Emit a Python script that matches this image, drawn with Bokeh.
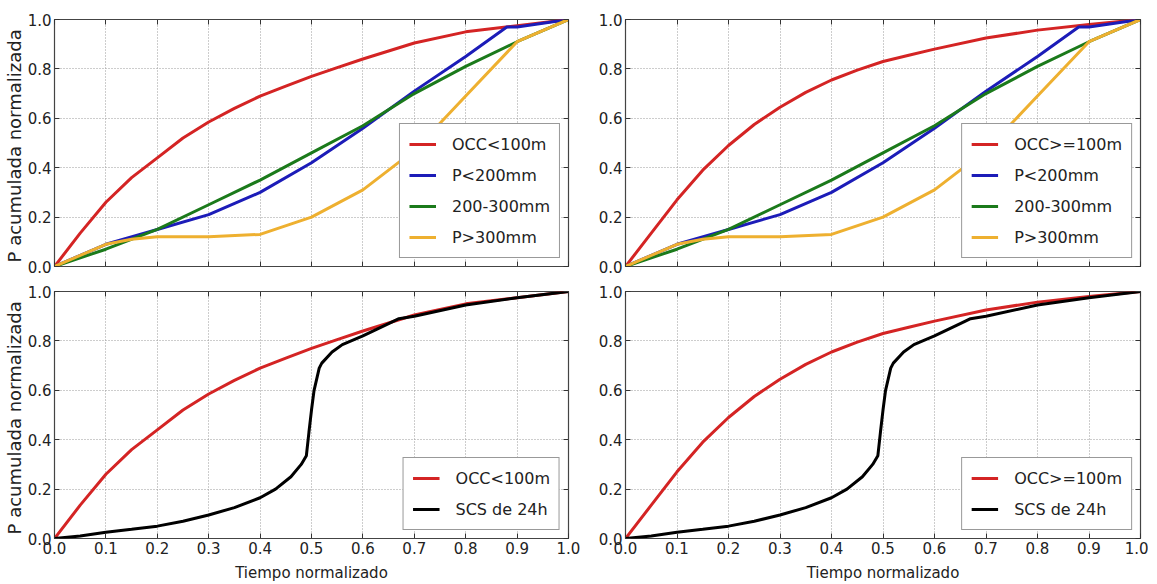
from bokeh.plotting import figure
from bokeh.layouts import column, row
from bokeh.models import Legend, LegendItem, FixedTicker, NumeralTickFormatter, LinearAxis
from bokeh.embed import file_html
from bokeh.resources import INLINE

FONT = "DejaVu Sans"

# ---------- data ----------
t_occ = [0.0, 0.05, 0.1, 0.15, 0.2, 0.25, 0.3, 0.35, 0.4, 0.45, 0.5, 0.55, 0.6, 0.7, 0.8, 0.9, 1.0]
occ_lt100 = [0.0, 0.135, 0.26, 0.36, 0.44, 0.52, 0.585, 0.64, 0.69, 0.73, 0.77, 0.805, 0.84, 0.905, 0.95, 0.975, 1.0]
occ_ge100 = [0.0, 0.135, 0.27, 0.39, 0.49, 0.575, 0.645, 0.705, 0.755, 0.795, 0.83, 0.855, 0.88, 0.925, 0.957, 0.98, 1.0]

t_p = [0.0, 0.1, 0.2, 0.3, 0.4, 0.5, 0.6, 0.7, 0.8, 0.88, 0.9, 1.0]
p_lt200 = [0.0, 0.09, 0.15, 0.21, 0.30, 0.42, 0.56, 0.71, 0.85, 0.97, 0.97, 1.0]
t_g = [0.0, 0.1, 0.2, 0.3, 0.4, 0.5, 0.6, 0.7, 0.8, 0.9, 1.0]
p_200_300 = [0.0, 0.07, 0.15, 0.25, 0.35, 0.46, 0.57, 0.70, 0.81, 0.91, 1.0]
t_y = [0.0, 0.1, 0.15, 0.2, 0.3, 0.4, 0.5, 0.6, 0.7, 0.8, 0.9, 1.0]
p_gt300 = [0.0, 0.09, 0.11, 0.12, 0.12, 0.13, 0.20, 0.31, 0.47, 0.69, 0.91, 1.0]

t_scs = [0.0, 0.05, 0.1, 0.15, 0.2, 0.25, 0.3, 0.35, 0.4, 0.43, 0.46, 0.48, 0.49, 0.495, 0.5, 0.505, 0.515, 0.52,
         0.54, 0.56, 0.6, 0.65, 0.67, 0.7, 0.8, 0.9, 1.0]
scs_24h = [0.0, 0.01, 0.025, 0.037, 0.05, 0.07, 0.095, 0.125, 0.165, 0.2, 0.25, 0.30, 0.335, 0.43, 0.52, 0.6, 0.69, 0.71,
           0.755, 0.785, 0.82, 0.87, 0.89, 0.90, 0.945, 0.975, 1.0]

x_ticks = [0.0, 0.1, 0.2, 0.3, 0.4, 0.5, 0.6, 0.7, 0.8, 0.9, 1.0]
y_ticks = [0.0, 0.2, 0.4, 0.6, 0.8, 1.0]

RED = "#d42424"
BLUE = "#1c1cb8"
GREEN = "#1b7a1b"
YELLOW = "#eeb030"
BLACK = "#000000"


def style_axis(ax, ticks, labels=True):
    ax.ticker = FixedTicker(ticks=ticks)
    ax.formatter = NumeralTickFormatter(format="0.0")
    ax.axis_line_color = None
    ax.major_tick_in = 5
    ax.major_tick_out = 0
    ax.minor_tick_in = 0
    ax.minor_tick_out = 0
    ax.minor_tick_line_color = None
    ax.major_tick_line_color = "#333333"
    ax.major_label_text_font = FONT
    ax.major_label_text_font_size = "15px"
    ax.major_label_text_color = "#222222"
    ax.major_label_standoff = 3
    if not labels:
        ax.major_label_overrides = {t: "" for t in ticks}
        ax.major_label_standoff = 0


def make_fig(fw, fh, left, right, top, bottom, show_xlabels, ylabel):
    p = figure(frame_width=fw, frame_height=fh, x_range=(0, 1), y_range=(0, 1),
               output_backend="svg", toolbar_location=None,
               min_border_left=left, min_border_right=right,
               min_border_top=top, min_border_bottom=bottom)
    p.outline_line_color = "#444444"
    p.outline_line_width = 1.2
    bx = p.below[0]
    ly = p.left[0]
    style_axis(bx, x_ticks, show_xlabels)
    style_axis(ly, y_ticks)
    if show_xlabels:
        bx.axis_label = "Tiempo normalizado"
        bx.axis_label_text_font = FONT
        bx.axis_label_text_font_style = "normal"
        bx.axis_label_text_font_size = "15px"
        bx.axis_label_text_color = "#222222"
        bx.axis_label_standoff = 7
    if ylabel:
        ly.axis_label = ylabel
        ly.axis_label_text_font = FONT
        ly.axis_label_text_font_style = "normal"
        ly.axis_label_text_font_size = "18px"
        ly.axis_label_text_color = "#222222"
        ly.axis_label_standoff = 0
    ax_top = LinearAxis()
    style_axis(ax_top, x_ticks, False)
    p.add_layout(ax_top, "above")
    ax_right = LinearAxis()
    style_axis(ax_right, y_ticks, False)
    p.add_layout(ax_right, "right")
    p.xgrid.ticker = FixedTicker(ticks=x_ticks)
    p.ygrid.ticker = FixedTicker(ticks=y_ticks)
    for g in (p.xgrid[0], p.ygrid[0]):
        g.grid_line_color = "#9a9a9a"
        g.grid_line_dash = "1 2"
        g.grid_line_width = 1
    return p


def add_legend(p, items):
    leg = Legend(items=items, location="bottom_right")
    leg.label_text_font = FONT
    leg.label_text_font_size = "16px"
    leg.label_text_color = "#222222"
    leg.border_line_color = "#333333"
    leg.border_line_width = 1.2
    leg.background_fill_alpha = 1.0
    leg.glyph_width = 27
    leg.glyph_height = 22
    leg.label_height = 22
    leg.label_standoff = 16
    leg.spacing = 9
    leg.padding = 9
    leg.margin = 8
    p.add_layout(leg)


LW = 3

cols = []
for col, (occ_vals, occ_name) in enumerate([(occ_lt100, "OCC<100m"), (occ_ge100, "OCC>=100m")]):
    if col == 0:
        left, right, fw = 48, 12, 514
    else:
        left, right, fw = 45, 8, 515
    ylabel = "P  acumulada normalizada" if col == 0 else None
    top = make_fig(fw, 247, left, right, 19, 15, False, ylabel)
    r1 = top.line(t_occ, occ_vals, line_color=RED, line_width=LW)
    r2 = top.line(t_p, p_lt200, line_color=BLUE, line_width=LW)
    r3 = top.line(t_g, p_200_300, line_color=GREEN, line_width=LW)
    r4 = top.line(t_y, p_gt300, line_color=YELLOW, line_width=LW)
    add_legend(top, [LegendItem(label=occ_name, renderers=[r1]),
                     LegendItem(label="P<200mm", renderers=[r2]),
                     LegendItem(label="200-300mm", renderers=[r3]),
                     LegendItem(label="P>300mm", renderers=[r4])])

    bot = make_fig(fw, 247, left, right, 10, 45, True, ylabel)
    b1 = bot.line(t_occ, occ_vals, line_color=RED, line_width=LW)
    b2 = bot.line(t_scs, scs_24h, line_color=BLACK, line_width=LW)
    add_legend(bot, [LegendItem(label=occ_name, renderers=[b1]),
                     LegendItem(label="SCS de 24h", renderers=[b2])])
    cols.append((top, bot))

layout = column(row(cols[0][0], cols[1][0]), row(cols[0][1], cols[1][1]))

open("out.html", "w").write(file_html(layout, INLINE))
